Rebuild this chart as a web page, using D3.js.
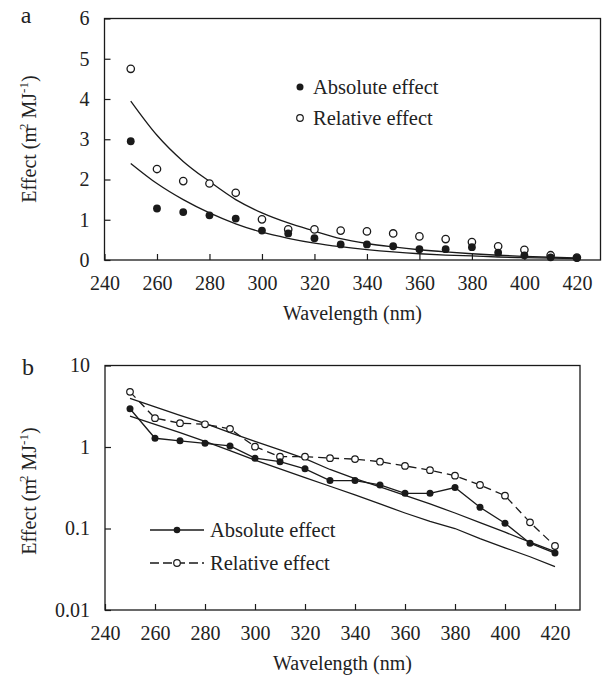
<!DOCTYPE html>
<html>
<head>
<meta charset="utf-8">
<title>effect vs wavelength</title>
<script src="https://d3js.org/d3.v7.min.js"></script>
<style>
  body { margin: 0; background: #fff; }
  svg text { font-family: "Liberation Serif", "Tinos", "Times New Roman", "DejaVu Serif", serif; fill: #222; }
</style>
</head>
<body>
<script>
// values
var wavelength = [250, 260, 270, 280, 290, 300, 310, 320, 330, 340, 350, 360, 370, 380, 390, 400, 410, 420]
var absEffect = [2.95, 1.28, 1.19, 1.11, 1.03, 0.73, 0.66, 0.54, 0.387, 0.387, 0.342, 0.27, 0.27, 0.318, 0.182, 0.116, 0.066, 0.050]
var relEffect = [4.75, 2.26, 1.96, 1.9, 1.67, 1.01, 0.76, 0.76, 0.73, 0.71, 0.66, 0.586, 0.52, 0.445, 0.342, 0.253, 0.119, 0.061]
var absFit = [2.4, 1.9, 1.5, 1.17, 0.9, 0.69, 0.54, 0.42, 0.33, 0.258, 0.2, 0.155, 0.122, 0.1, 0.075, 0.058, 0.045, 0.034]
var relFit = [3.95, 3.1, 2.45, 1.95, 1.5, 1.17, 0.92, 0.72, 0.53, 0.41, 0.325, 0.255, 0.2, 0.155, 0.118, 0.09, 0.068, 0.052]
var xTicks = [240, 260, 280, 300, 320, 340, 360, 380, 400, 420]
var yTicksA = [0, 1, 2, 3, 4, 5, 6]
var yTicksB = [0.01, 0.1, 1, 10]
var yTickLabelsB = ["0.01", "0.1", "1", "10"]
var legendLabels = ["Absolute effect", "Relative effect"]

var w = 602, h = 676
var svg = d3.select("body").append("svg").attr("width", w).attr("height", h)
var ink = "#1a1a1a"
var serif = "'Liberation Serif', 'Tinos', 'Times New Roman', 'DejaVu Serif', serif"

var absRows = wavelength.map(function(d, i){ return {x: d, y: absEffect[i], f: absFit[i]} })
var relRows = wavelength.map(function(d, i){ return {x: d, y: relEffect[i], f: relFit[i]} })

function frame(g, x, y, tickVals, tickFmt, yLabelY, xLabelBase){
    var x0 = x.range()[0], x1 = x.range()[1]
    var y0 = y.range()[0], y1 = y.range()[1]
    g.append("rect")
        .attr("x", x0).attr("y", y1)
        .attr("width", x1 - x0).attr("height", y0 - y1)
        .attr("fill", "none").attr("stroke", ink).attr("stroke-width", 1.3)

    var xAxis = d3.axisBottom(x).tickValues(xTicks).tickSize(-6).tickPadding(16).tickFormat(d3.format("d"))
    var gx = g.append("g").attr("transform", "translate(0," + y0 + ")").call(xAxis)
    gx.attr("font-family", serif)
    gx.select(".domain").remove()
    gx.selectAll("line").attr("stroke", ink).attr("stroke-width", 1.2)
    gx.selectAll("text").attr("font-size", 20).attr("fill", "#222")

    var yAxis = d3.axisLeft(y).tickValues(tickVals).tickSize(-6).tickPadding(15).tickFormat(tickFmt)
    var gy = g.append("g").attr("transform", "translate(" + x0 + ",0)").call(yAxis)
    gy.attr("font-family", serif)
    gy.select(".domain").remove()
    gy.selectAll("line").attr("stroke", ink).attr("stroke-width", 1.2)
    gy.selectAll("text").attr("font-size", 20).attr("fill", "#222")

    g.append("text")
        .attr("x", (x0 + x1) / 2).attr("y", xLabelBase)
        .attr("text-anchor", "middle").attr("font-size", 20)
        .text("Wavelength (nm)")

    var lab = g.append("text")
        .attr("transform", "translate(36," + yLabelY + ") rotate(-90)")
        .attr("text-anchor", "middle").attr("font-size", 20)
    lab.append("tspan").text("Effect (m")
    lab.append("tspan").attr("font-size", 13).attr("dy", -8).attr("dx", -3).text("2")
    lab.append("tspan").attr("dy", 8).text(" MJ")
    lab.append("tspan").attr("font-size", 13).attr("dy", -8).text("-1")
    lab.append("tspan").attr("dy", 8).text(")")
}

// ---------- panel a ----------
var ga = svg.append("g")
var xa = d3.scaleLinear().domain([240, 429]).range([104.5, 600.5])
var ya = d3.scaleLinear().domain([0, 6]).range([260, 18.5])
frame(ga, xa, ya, yTicksA, d3.format("d"), 139, 320)

ga.append("text").attr("x", 26).attr("y", 23).attr("text-anchor", "middle").attr("font-size", 24).text("a")

var curveA = d3.line()
    .x(function(d){ return xa(d.x) })
    .y(function(d){ return ya(d.f) })
    .curve(d3.curveMonotoneX)

ga.selectAll(".fit")
    .data([absRows, relRows])
    .enter().append("path")
    .attr("d", curveA)
    .attr("fill", "none").attr("stroke", ink).attr("stroke-width", 1.3)

ga.selectAll(".rel")
    .data(relRows).enter().append("circle")
    .attr("cx", function(d){ return xa(d.x) })
    .attr("cy", function(d){ return ya(d.y) })
    .attr("r", 3.7).attr("fill", "#fff").attr("stroke", ink).attr("stroke-width", 1.3)

ga.selectAll(".abs")
    .data(absRows).enter().append("circle")
    .attr("cx", function(d){ return xa(d.x) })
    .attr("cy", function(d){ return ya(d.y) })
    .attr("r", 3.9).attr("fill", ink)

// legend a
ga.append("circle").attr("cx", 300).attr("cy", 87).attr("r", 3.5).attr("fill", ink)
ga.append("circle").attr("cx", 300).attr("cy", 118).attr("r", 3.3).attr("fill", "#fff").attr("stroke", ink).attr("stroke-width", 1.2)
ga.selectAll(".leg")
    .data(legendLabels).enter().append("text")
    .attr("x", 313).attr("y", function(d, i){ return 94 + i * 31 })
    .attr("font-size", 20.5)
    .text(function(d){ return d })

// ---------- panel b ----------
var gb = svg.append("g")
var xb = d3.scaleLinear().domain([240, 430]).range([105, 580])
var yb = d3.scaleLog().domain([0.01, 10]).range([610, 365.5])
frame(gb, xb, yb, yTicksB, function(d){ return yTickLabelsB[yTicksB.indexOf(d)] }, 491, 670)

gb.append("text").attr("x", 28).attr("y", 375).attr("text-anchor", "middle").attr("font-size", 24).text("b")

var fitB = d3.line()
    .x(function(d){ return xb(d.x) })
    .y(function(d){ return yb(d.f) })
var dataB = d3.line()
    .x(function(d){ return xb(d.x) })
    .y(function(d){ return yb(d.y) })

gb.selectAll(".fitb")
    .data([absRows, relRows])
    .enter().append("path")
    .attr("d", fitB)
    .attr("fill", "none").attr("stroke", ink).attr("stroke-width", 1.3)

gb.append("path").datum(relRows)
    .attr("d", dataB)
    .attr("fill", "none").attr("stroke", ink).attr("stroke-width", 1.3)
    .attr("stroke-dasharray", "8,5")

gb.append("path").datum(absRows)
    .attr("d", dataB)
    .attr("fill", "none").attr("stroke", ink).attr("stroke-width", 1.3)

gb.selectAll(".relb")
    .data(relRows).enter().append("circle")
    .attr("cx", function(d){ return xb(d.x) })
    .attr("cy", function(d){ return yb(d.y) })
    .attr("r", 3.3).attr("fill", "#fff").attr("stroke", ink).attr("stroke-width", 1.2)

gb.selectAll(".absb")
    .data(absRows).enter().append("circle")
    .attr("cx", function(d){ return xb(d.x) })
    .attr("cy", function(d){ return yb(d.y) })
    .attr("r", 3.5).attr("fill", ink)

// legend b
gb.append("line").attr("x1", 150).attr("x2", 204).attr("y1", 530).attr("y2", 530)
    .attr("stroke", ink).attr("stroke-width", 1.3)
gb.append("circle").attr("cx", 177).attr("cy", 530).attr("r", 3.3).attr("fill", ink)
gb.append("line").attr("x1", 150).attr("x2", 204).attr("y1", 563).attr("y2", 563)
    .attr("stroke", ink).attr("stroke-width", 1.3).attr("stroke-dasharray", "9,4")
gb.append("circle").attr("cx", 177).attr("cy", 563).attr("r", 3.3).attr("fill", "#fff").attr("stroke", ink).attr("stroke-width", 1.2)
gb.selectAll(".legb")
    .data(legendLabels).enter().append("text")
    .attr("x", 210).attr("y", function(d, i){ return 537 + i * 33 })
    .attr("font-size", 20.5)
    .text(function(d){ return d })
</script>
</body>
</html>
